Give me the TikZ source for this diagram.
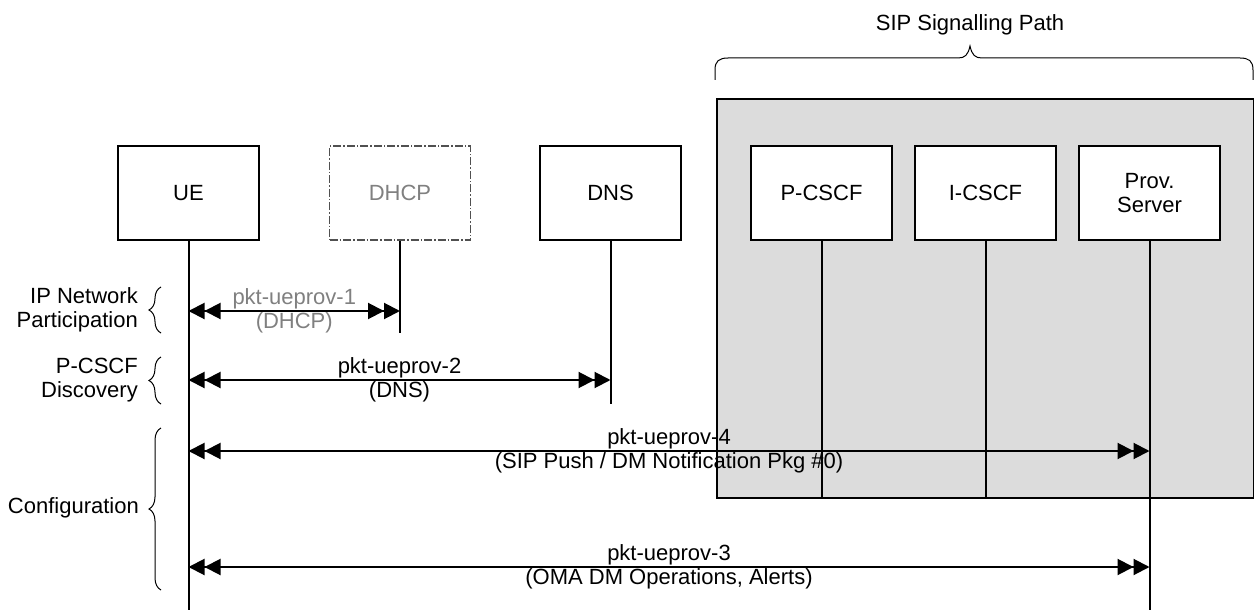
\documentclass[tikz,border=0pt]{standalone}
\usepackage{fontspec}
\setmainfont{Liberation Sans}
\usetikzlibrary{arrows.meta,decorations.pathreplacing}
\definecolor{sigfill}{HTML}{DCDCDC}
\definecolor{dimtext}{HTML}{808080}
\definecolor{dimline}{HTML}{505050}
\begin{document}
\begin{tikzpicture}[x=1pt,y=-1pt,
  every node/.style={font=\fontsize{22}{24}\selectfont, inner sep=0pt},
  entity/.style={draw, line width=1.3pt, minimum width=141pt, minimum height=94pt, fill=white, align=center},
  ghost/.style={entity, draw=dimline, dash pattern=on 8pt off 2pt on 1.5pt off 2pt, text=dimtext},
  life/.style={line width=2pt},
  msg/.style={line width=2pt,
    {Triangle[length=16pt,width=16pt,sep=0pt]Triangle[length=16pt,width=16pt]}-{Triangle[length=16pt,width=16pt,sep=0pt]Triangle[length=16pt,width=16pt]}},
  lbl/.style={align=center},
  side/.style={align=right, anchor=east},
  brc/.style={decorate, decoration={brace, amplitude=12pt}, line width=1pt}
]
\useasboundingbox (0,0) rectangle (1254,610);

% SIP signalling region
\node[draw, fill=sigfill, line width=2pt, minimum width=537pt, minimum height=399pt, anchor=north west] (sig) at (716,98) {};
\node (siptitle) at (970,25) {SIP Signalling Path};
\draw[line width=1pt] (715,80) -- (715,70) .. controls (715,61) and (719,58) .. (728,58) -- (958,58) .. controls (965,58) and (968,55) .. (970,46) .. controls (972,55) and (975,58) .. (982,58) -- (1240,58) .. controls (1249,58) and (1253,61) .. (1253,70) -- (1253,80);

% entities
\node[entity] (ue) at (188.5,193) {UE};
\node[ghost] (dhcp) at (400,193) {DHCP};
\node[entity] (dns) at (610.5,193) {DNS};
\node[entity] (pcscf) at (821.5,193) {P-CSCF};
\node[entity] (icscf) at (985.5,193) {I-CSCF};
\node[entity] (prov) at (1149.5,193) {Prov.\\Server};

% lifelines
\coordinate (ueend) at (ue.south |- 0,610);
\coordinate (dhcpend) at (dhcp.south |- 0,333);
\coordinate (dnsend) at (dns.south |- 0,404);
\coordinate (pcscfend) at (pcscf.south |- sig.south);
\coordinate (icscfend) at (icscf.south |- sig.south);
\coordinate (provend) at (prov.south |- 0,610);
\draw[life] (ue.south) -- (ueend);
\draw[life] (dhcp.south) -- (dhcpend);
\draw[life] (dns.south) -- (dnsend);
\draw[life] (pcscf.south) -- (pcscfend);
\draw[life] (icscf.south) -- (icscfend);
\draw[life] (prov.south) -- (provend);

% messages
\draw[msg] (ue.south |- 0,311) -- node[lbl, text=dimtext] (m1) {pkt-ueprov-1\\(DHCP)} (dhcp.south |- 0,311);
\draw[msg] (ue.south |- 0,380) -- node[lbl] (m2) {pkt-ueprov-2\\(DNS)} (dns.south |- 0,380);
\draw[msg] (ue.south |- 0,451) -- node[lbl] (m4) {pkt-ueprov-4\\(SIP Push / DM Notification Pkg \#0)} (prov.south |- 0,451);
\draw[msg] (ue.south |- 0,567) -- node[lbl] (m3) {pkt-ueprov-3\\(OMA DM Operations, Alerts)} (prov.south |- 0,567);

% phase labels
\node[side] (ipn) at (138,310) {IP Network\\Participation};
\draw[brc] (161,333) -- (161,287);
\node[side] (disc) at (138,380) {P-CSCF\\Discovery};
\draw[brc] (161,404) -- (161,357);
\node[side] (conf) at (139,508) {Configuration};
\draw[brc] (161,590) -- (161,428);
\end{tikzpicture}
\end{document}
